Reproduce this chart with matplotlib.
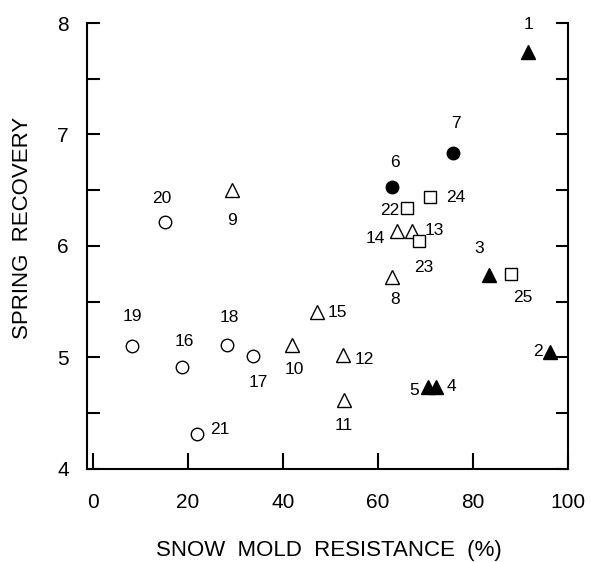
import matplotlib.pyplot as plt

plt.rcParams['font.family'] = ['Liberation Sans', 'DejaVu Sans']

# values
ids = [str(i) for i in range(1, 26)]
snow_mold = [91.6, 96.2, 83.4, 72.2, 70.5, 62.9, 75.8, 62.9, 29.3, 41.9,
             52.8, 52.6, 67.2, 64.0, 47.2, 18.7, 33.7, 28.2, 8.2, 15.2,
             21.9, 66.1, 68.6, 70.9, 88.0]
spring_rec = [7.74, 5.05, 5.74, 4.73, 4.73, 6.53, 6.83, 5.72, 6.50, 5.11,
              4.62, 5.02, 6.13, 6.13, 5.41, 4.91, 5.01, 5.11, 5.10, 6.21,
              4.31, 6.34, 6.04, 6.44, 5.75]
# marker group per entry
groups = ['ftri'] * 5 + ['fcirc'] * 2 + ['otri'] * 8 + ['ocirc'] * 6 + ['osq'] * 4

styles = {
    'ftri': dict(marker='^', mfc='black', ms=9.5),
    'fcirc': dict(marker='o', mfc='black', ms=9),
    'otri': dict(marker='^', mfc='white', ms=9.5),
    'ocirc': dict(marker='o', mfc='white', ms=9),
    'osq': dict(marker='s', mfc='white', ms=9),
}

# label offsets in pixels (dx, dy), dy positive = up
offsets = {
    '1': (0, 28), '2': (-12, 0), '3': (-10, 26), '4': (16, 1), '5': (-14, -3),
    '6': (3, 24), '7': (3, 30), '8': (3, -22), '9': (0, -30), '10': (2, -24),
    '11': (0, -26), '12': (21, -4), '13': (22, 1), '14': (-22, -7), '15': (20, -1),
    '16': (2, 26), '17': (5, -26), '18': (2, 28), '19': (0, 30), '20': (-3, 24),
    '21': (23, 5), '22': (-17, -3), '23': (5, -26), '24': (26, -1), '25': (12, -24),
}

fig = plt.figure(figsize=(5.91, 5.62), dpi=100)
ax = fig.add_axes([0.147, 0.166, 0.814, 0.793])

for x, y, g, lab in zip(snow_mold, spring_rec, groups, ids):
    st = styles[g]
    ax.plot(x, y, linestyle='none', marker=st['marker'], markersize=st['ms'],
            markerfacecolor=st['mfc'], markeredgecolor='black', markeredgewidth=1.0)
    dx, dy = offsets[lab]
    ax.annotate(lab, (x, y), xytext=(dx, dy), textcoords='offset pixels',
                ha='center', va='center', fontsize=12.5)

ax.set_xlim(-1.3, 100)
ax.set_ylim(4, 8)
ax.set_xticks([0, 20, 40, 60, 80, 100])
ax.set_yticks([4, 5, 6, 7, 8])
ax.set_yticks([4.5, 5.5, 6.5, 7.5], minor=True)

ax.spines['top'].set_visible(False)
for s in ['left', 'bottom', 'right']:
    ax.spines[s].set_linewidth(1.5)

ax.tick_params(axis='y', which='both', direction='in', length=9, width=1.5,
               left=True, right=True, labelsize=15, pad=13)
ax.tick_params(axis='x', direction='in', length=11.5, width=1.5, labelsize=15, pad=17.5)

ax.set_xlabel('SNOW  MOLD  RESISTANCE  (%)', fontsize=16)
ax.set_ylabel('SPRING  RECOVERY', fontsize=16)
ax.xaxis.set_label_coords(0.502, -0.161)
ax.yaxis.set_label_coords(-0.112, 0.54)

fig.savefig('out.png', dpi=100)
